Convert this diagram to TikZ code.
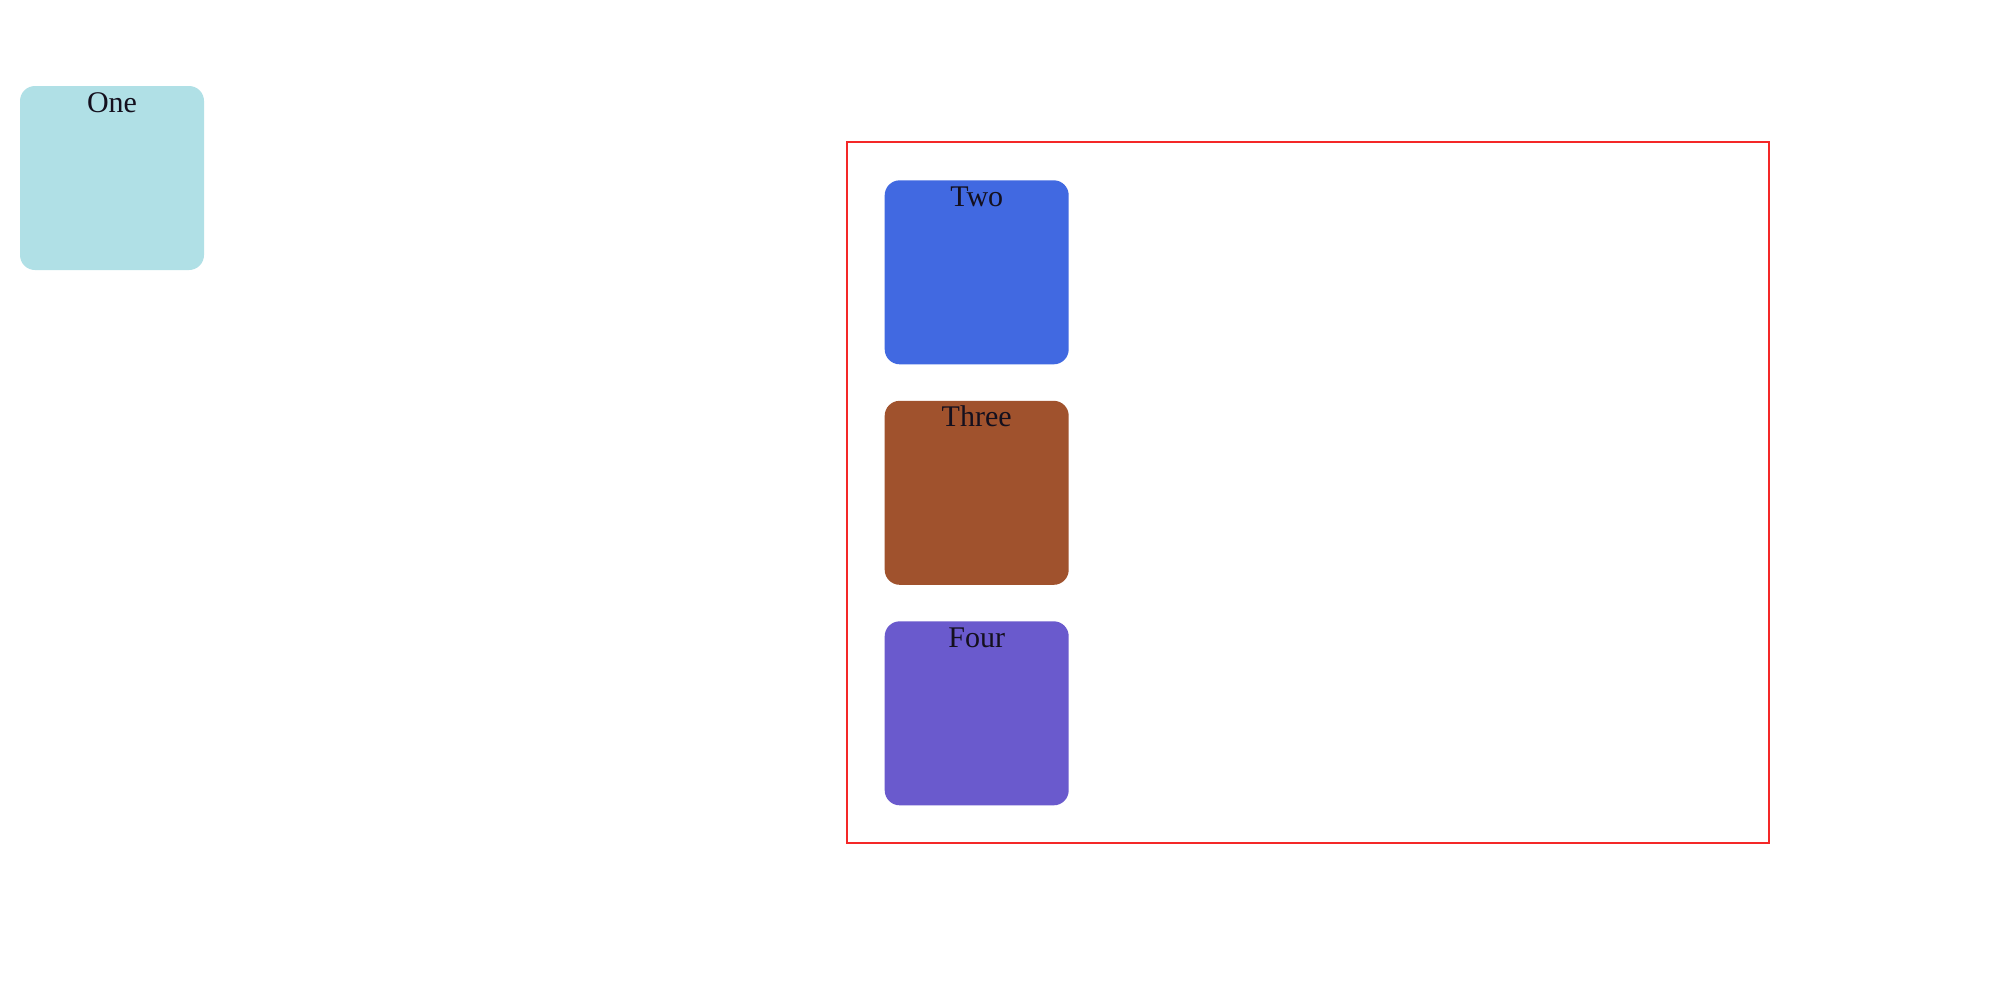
\documentclass[tikz,border=0pt]{standalone}
\usepackage{fontspec}
\setmainfont{Liberation Serif}
\definecolor{cOne}{RGB}{176,224,230}
\definecolor{cTwo}{RGB}{65,105,225}
\definecolor{cThree}{RGB}{160,82,45}
\definecolor{cFour}{RGB}{106,90,205}
\definecolor{cFrame}{RGB}{244,40,40}
\definecolor{cText}{RGB}{20,16,30}
\tikzset{
  cardbox/.style={fill=#1, draw=none, rounded corners=7.5pt, anchor=north west,
    minimum width=92pt, minimum height=92pt, inner sep=0pt, outer sep=0pt},
  cardlabel/.style={label={[font=\fontsize{15pt}{18pt}\selectfont, text=cText, anchor=base, yshift=-13pt, inner sep=0pt]north:#1}},
  framebox/.style={draw=cFrame, line width=1pt, fill=none, anchor=north west, inner sep=0pt, outer sep=0pt}
}
\begin{document}
\begin{tikzpicture}[x=0.5pt, y=-0.5pt]
\useasboundingbox (0,0) rectangle (2000,1001);
\fill[white] (0,0) rectangle (2000,1001);
\node[framebox, minimum width=461pt, minimum height=350.2pt] (frame) at (846.7,142.3) {};
\node[cardbox=cOne, cardlabel=One] (one) at (20,86) {};
\node[cardbox=cTwo, cardlabel=Two] (two) at (884.7,180.3) {};
\node[cardbox=cThree, cardlabel=Three] (three) at (884.7,400.8) {};
\node[cardbox=cFour, cardlabel=Four] (four) at (884.7,621.3) {};
\end{tikzpicture}
\end{document}
